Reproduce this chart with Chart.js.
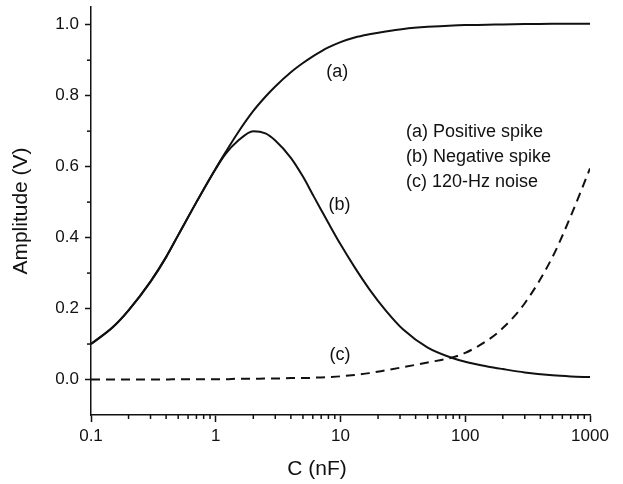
<!DOCTYPE html>
<html>
<head>
<meta charset="utf-8">
<script src="https://cdn.jsdelivr.net/npm/chart.js@4/dist/chart.umd.min.js"></script>
<style>
  html, body { margin: 0; padding: 0; background: #fff; }
  #wrap { width: 623px; height: 484px; }
</style>
</head>
<body>
<div id="wrap"><canvas id="chart"></canvas></div>
<script>
// capacitance values (nF), shared by all three curves
const capValues = [0.1, 0.15, 0.2, 0.3, 0.4, 0.5, 0.7, 1, 1.2, 1.5, 2, 2.5, 3, 4, 5, 6, 7, 8,
  10, 13, 17, 23, 32, 50, 80, 100, 150, 200, 300, 500, 700, 1000];

// (a) positive spike
const positiveSpike = [0.1, 0.148, 0.195, 0.276, 0.345, 0.407, 0.50, 0.595, 0.641, 0.695, 0.757, 0.797,
  0.826, 0.866, 0.892, 0.911, 0.925, 0.936, 0.951, 0.964, 0.973, 0.981, 0.988, 0.994, 0.998, 0.999,
  1.0, 1.001, 1.002, 1.003, 1.003, 1.003];

// (b) negative spike
const negativeSpike = [0.1, 0.148, 0.195, 0.276, 0.345, 0.407, 0.50, 0.594, 0.636, 0.672, 0.70, 0.694,
  0.674, 0.625, 0.572, 0.521, 0.478, 0.441, 0.381, 0.316, 0.255, 0.195, 0.140, 0.090, 0.060, 0.050,
  0.037, 0.0295, 0.020, 0.012, 0.0088, 0.0068];

// (c) 120-Hz noise
const hzNoise = [0, 0, 0, 0, 0, 0.001, 0.001, 0.001, 0.001, 0.002, 0.002, 0.003, 0.003, 0.004, 0.004,
  0.005, 0.006, 0.007, 0.009, 0.013, 0.018, 0.026, 0.035, 0.048, 0.063, 0.075, 0.11, 0.145, 0.215,
  0.345, 0.46, 0.595];

// axis ticks
const xMajorTicks = [0.1, 1, 10, 100, 1000];
const xTickLabels = ['0.1', '1', '10', '100', '1000'];
const xMinorMultipliers = [2, 3, 4, 5, 6, 7, 8, 9];
const yMajorTicks = [0, 0.2, 0.4, 0.6, 0.8, 1.0];
const yTickLabels = ['0.0', '0.2', '0.4', '0.6', '0.8', '1.0'];
const yMinorTicks = [0.1, 0.3, 0.5, 0.7, 0.9];

const xAxisTitle = 'C (nF)';
const yAxisTitle = 'Amplitude (V)';

// curve tags and legend text
const curveTags = [
  { text: '(a)', x: 9.4, y: 0.867 },
  { text: '(b)', x: 9.8, y: 0.492 },
  { text: '(c)', x: 9.9, y: 0.07 },
];
const legendLines = [
  { text: '(a) Positive spike', x: 33.5, y: 0.698 },
  { text: '(b) Negative spike', x: 33.5, y: 0.628 },
  { text: '(c) 120-Hz noise', x: 33.5, y: 0.558 },
];

const FONT = '"Liberation Sans", Arial, sans-serif';
const INK = '#111';

function toPoints(values) {
  return values.map((v, i) => ({ x: capValues[i], y: v }));
}

// minor ticks, x title and text labels drawn on top of the chart
const extrasPlugin = {
  id: 'extras',
  afterDraw(chart) {
    const { ctx, chartArea, scales: { x, y } } = chart;
    ctx.save();
    ctx.strokeStyle = INK;
    ctx.lineWidth = 1.5;
    const yBase = chartArea.bottom;
    const xBase = chartArea.left;
    xMajorTicks.slice(0, -1).forEach(d => {
      xMinorMultipliers.forEach(m => {
        const px = x.getPixelForValue(d * m);
        ctx.beginPath();
        ctx.moveTo(px, yBase);
        ctx.lineTo(px, yBase + 4);
        ctx.stroke();
      });
    });
    yMinorTicks.forEach(v => {
      const py = y.getPixelForValue(v);
      ctx.beginPath();
      ctx.moveTo(xBase, py);
      ctx.lineTo(xBase - 4, py);
      ctx.stroke();
    });

    ctx.fillStyle = INK;
    ctx.textBaseline = 'middle';
    ctx.textAlign = 'center';
    // x axis title sits a bit left of centre in the original
    ctx.font = '21px ' + FONT;
    ctx.fillText(xAxisTitle, chartArea.left + chartArea.width * 0.453, 469);

    ctx.font = '18px ' + FONT;
    curveTags.forEach(t => {
      ctx.fillText(t.text, x.getPixelForValue(t.x), y.getPixelForValue(t.y));
    });
    ctx.textAlign = 'left';
    legendLines.forEach(t => {
      ctx.fillText(t.text, x.getPixelForValue(t.x), y.getPixelForValue(t.y));
    });
    ctx.restore();
  }
};

const ctx = document.getElementById('chart').getContext('2d');
new Chart(ctx, {
  type: 'line',
  data: {
    datasets: [
      {
        label: '(a) Positive spike',
        data: toPoints(positiveSpike),
        borderColor: INK,
        borderWidth: 2,
        pointRadius: 0,
        cubicInterpolationMode: 'monotone',
      },
      {
        label: '(b) Negative spike',
        data: toPoints(negativeSpike),
        borderColor: INK,
        borderWidth: 2,
        pointRadius: 0,
        cubicInterpolationMode: 'monotone',
      },
      {
        label: '(c) 120-Hz noise',
        data: toPoints(hzNoise),
        borderColor: INK,
        borderWidth: 2,
        borderDash: [9, 6],
        pointRadius: 0,
        cubicInterpolationMode: 'monotone',
      },
    ],
  },
  options: {
    responsive: true,
    maintainAspectRatio: false,
    animation: false,
    layout: { padding: { top: 7, right: 33, left: 0, bottom: 0 } },
    plugins: {
      legend: { display: false },
      tooltip: { enabled: false },
    },
    scales: {
      x: {
        type: 'logarithmic',
        min: 0.1,
        max: 1000,
        afterBuildTicks: scale => {
          scale.ticks = xMajorTicks.map(v => ({ value: v, major: true }));
        },
        afterFit: scale => {
          scale.height = 69;
          scale.paddingLeft = 0;
          scale.paddingRight = 0;
        },
        ticks: {
          autoSkip: false,
          maxRotation: 0,
          padding: 4,
          color: INK,
          font: { family: FONT, size: 17 },
          callback: (value) => {
            const i = xMajorTicks.indexOf(value);
            return i >= 0 ? xTickLabels[i] : '';
          },
        },
        grid: {
          drawOnChartArea: false,
          drawTicks: true,
          tickLength: 7,
          tickColor: INK,
          tickWidth: 1.5,
        },
        border: { display: true, color: INK, width: 1.5 },
        title: { display: false },
      },
      y: {
        min: -0.1,
        max: 1.05,
        afterBuildTicks: scale => {
          scale.ticks = yMajorTicks.map(v => ({ value: v }));
        },
        afterFit: scale => {
          scale.width = 91;
          scale.paddingTop = 0;
          scale.paddingBottom = 0;
        },
        ticks: {
          autoSkip: false,
          padding: 6,
          color: INK,
          font: { family: FONT, size: 17 },
          callback: (value) => {
            const i = yMajorTicks.findIndex(v => Math.abs(v - value) < 1e-9);
            return i >= 0 ? yTickLabels[i] : '';
          },
        },
        grid: {
          drawOnChartArea: false,
          drawTicks: true,
          tickLength: 6,
          tickColor: INK,
          tickWidth: 1.5,
        },
        border: { display: true, color: INK, width: 1.5 },
        title: {
          display: true,
          text: yAxisTitle,
          color: INK,
          font: { family: FONT, size: 21 },
          padding: { top: 9, bottom: 0 },
        },
      },
    },
  },
  plugins: [extrasPlugin],
});
</script>
</body>
</html>
